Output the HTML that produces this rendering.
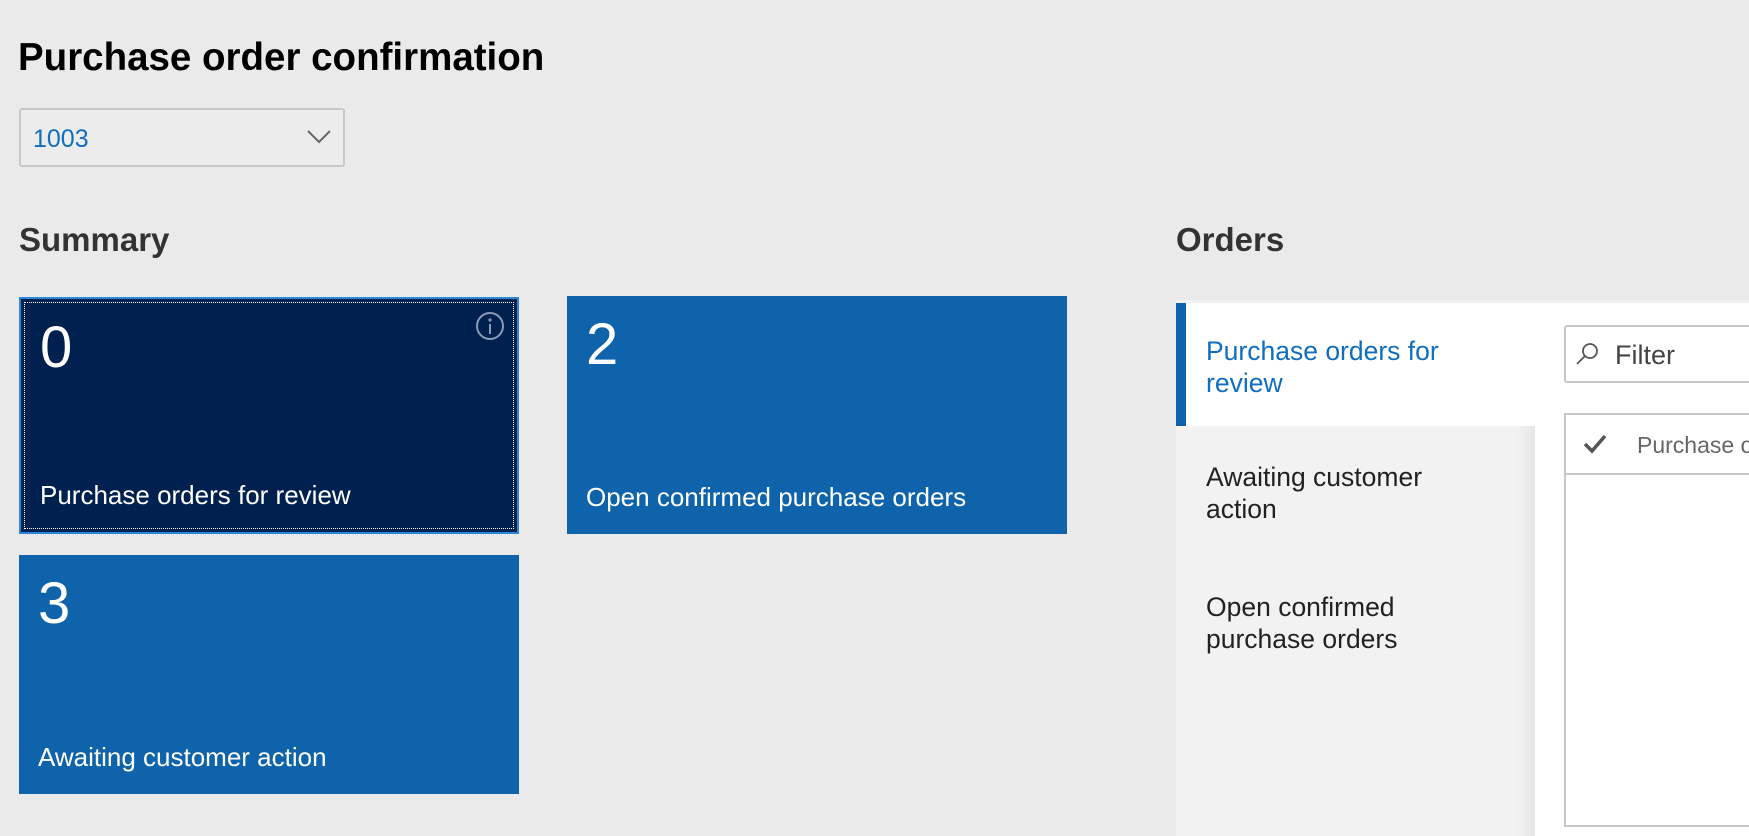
<!DOCTYPE html>
<html><head><meta charset="utf-8"><style>
*{margin:0;padding:0;box-sizing:border-box}
body{width:1749px;height:836px;background:#eaeaea;font-family:"Liberation Sans",sans-serif;position:relative;overflow:hidden}
.a{position:absolute}
.tile{position:absolute;background:#0f63aa;color:#fff}
.num{position:absolute;left:19px;top:20px;font-size:58px;font-weight:300;line-height:1}
.lbl{position:absolute;left:19px;bottom:24px;font-size:26px;line-height:1}
.nav{position:absolute;left:1206px;font-size:26.5px;line-height:32px;color:#222}
</style></head><body>
<div class="a" style="left:18px;top:36px;font-size:38.5px;font-weight:bold;color:#000">Purchase order confirmation</div>
<div class="a" style="left:19px;top:108px;width:326px;height:59px;border:2px solid #c8c8c8;border-radius:3px;background:#ececec"></div>
<div class="a" style="left:33px;top:125px;font-size:25px;color:#106ebe">1003</div>
<svg class="a" style="left:306px;top:128px" width="26" height="18"><polyline points="2,3 13,14 24,3" fill="none" stroke="#666" stroke-width="2"/></svg>
<div class="a" style="left:19px;top:221px;font-size:33px;font-weight:bold;color:#333">Summary</div>
<div class="a" style="left:1176px;top:221px;font-size:33px;font-weight:bold;color:#333">Orders</div>

<div class="tile" style="left:19px;top:297px;width:500px;height:237px;background:#002050;border:2px solid #2b88d8">
 <div class="a" style="left:3px;top:3px;right:3px;bottom:3px;border:1px dotted #fff"></div>
 <div class="num">0</div>
 <div class="lbl">Purchase orders for review</div>
 <svg class="a" style="left:454px;top:12px" width="30" height="30"><circle cx="15" cy="15" r="13" fill="none" stroke="#8a9bb5" stroke-width="2"/><circle cx="15" cy="9" r="1.6" fill="#8a9bb5"/><rect x="14" y="13" width="2" height="10" fill="#8a9bb5"/></svg>
</div>
<div class="tile" style="left:567px;top:296px;width:500px;height:238px">
 <div class="num">2</div><div class="lbl">Open confirmed purchase orders</div></div>
<div class="tile" style="left:19px;top:555px;width:500px;height:239px">
 <div class="num">3</div><div class="lbl">Awaiting customer action</div></div>

<div class="a" style="left:1176px;top:300px;width:573px;height:536px;background:#f2f2f2"></div>
<div class="a" style="left:1535px;top:303px;width:214px;height:533px;background:#fff"></div>
<div class="a" style="left:1176px;top:303px;width:359px;height:123px;background:#fff"></div>
<div class="a" style="left:1176px;top:303px;width:10px;height:123px;background:#0f63aa"></div>
<div class="a" style="left:1517px;top:426px;width:18px;height:410px;background:linear-gradient(to right,#f2f2f2,#e6e6e6)"></div>
<div class="nav" style="top:335px;color:#106ebe">Purchase orders for<br>review</div>
<div class="nav" style="top:461px">Awaiting customer<br>action</div>
<div class="nav" style="top:591px">Open confirmed<br>purchase orders</div>

<div class="a" style="left:1564px;top:325px;width:200px;height:58px;border:2px solid #c8c8c8;border-radius:3px;background:#fff"></div>
<svg class="a" style="left:1574px;top:341px" width="26" height="26"><circle cx="16" cy="10" r="7" fill="none" stroke="#555" stroke-width="1.8"/><line x1="11" y1="15" x2="3" y2="23" stroke="#555" stroke-width="1.8"/></svg>
<div class="a" style="left:1615px;top:340px;font-size:27px;color:#444">Filter</div>
<div class="a" style="left:1564px;top:413px;width:200px;height:414px;border:2px solid #c8c8c8;background:#fff"></div>
<div class="a" style="left:1566px;top:473px;width:183px;height:2px;background:#c8c8c8"></div>
<svg class="a" style="left:1582px;top:432px" width="26" height="24"><polyline points="3,12 10,19 23,4" fill="none" stroke="#555" stroke-width="3.5"/></svg>
<div class="a" style="left:1637px;top:432px;font-size:23px;color:#666;white-space:nowrap">Purchase o</div>
</body></html>
